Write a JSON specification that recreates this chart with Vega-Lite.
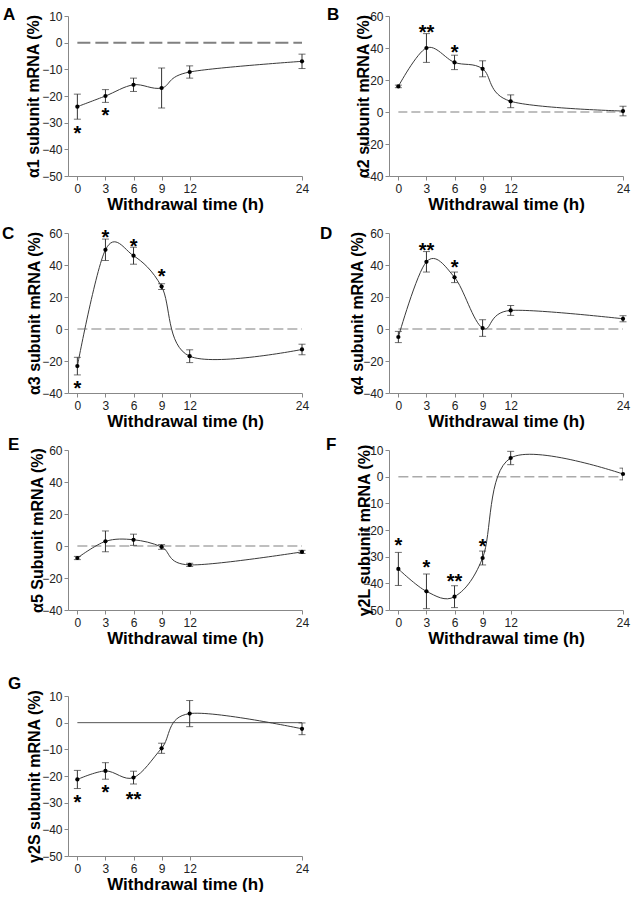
{
  "$schema": "https://vega.github.io/schema/vega-lite/v6.json",
  "background": "white",
  "padding": {"left": 2, "top": 6, "right": 4, "bottom": 0},
  "datasets": {
    "pts": [
      {"p":"A","t":0,"mean":-24,"err":4.7,"star":"*","sy":-32.2},
      {"p":"A","t":3,"mean":-20,"err":2.4,"star":"*","sy":-25.6},
      {"p":"A","t":6,"mean":-15.8,"err":2.5},
      {"p":"A","t":9,"mean":-17,"err":7.5},
      {"p":"A","t":12,"mean":-11,"err":2.3},
      {"p":"A","t":24,"mean":-7,"err":2.7},
      {"p":"B","t":0,"mean":16,"err":0.8},
      {"p":"B","t":3,"mean":40,"err":9,"star":"**","sy":52.5},
      {"p":"B","t":6,"mean":31,"err":4.5,"star":"*","sy":40.2},
      {"p":"B","t":9,"mean":27,"err":5},
      {"p":"B","t":12,"mean":6.7,"err":4},
      {"p":"B","t":24,"mean":0.6,"err":3},
      {"p":"C","t":0,"mean":-23.2,"err":5.5,"star":"*","sy":-34.6},
      {"p":"C","t":3,"mean":49.5,"err":6.7,"star":"*","sy":60.2},
      {"p":"C","t":6,"mean":45.8,"err":5.3,"star":"*","sy":54.5},
      {"p":"C","t":9,"mean":26.5,"err":1.8,"star":"*","sy":35.4},
      {"p":"C","t":12,"mean":-17,"err":4},
      {"p":"C","t":24,"mean":-12.8,"err":3.3},
      {"p":"D","t":0,"mean":-5,"err":3.5},
      {"p":"D","t":3,"mean":42,"err":6.4,"star":"**","sy":52},
      {"p":"D","t":6,"mean":32.3,"err":3.3,"star":"*","sy":41.2},
      {"p":"D","t":9,"mean":0.6,"err":5.2},
      {"p":"D","t":12,"mean":11.6,"err":3.1},
      {"p":"D","t":24,"mean":6.4,"err":1.9},
      {"p":"E","t":0,"mean":-7.5,"err":1},
      {"p":"E","t":3,"mean":2.9,"err":6.5},
      {"p":"E","t":6,"mean":3.9,"err":3.5},
      {"p":"E","t":9,"mean":-0.6,"err":1.5},
      {"p":"E","t":12,"mean":-11.8,"err":1},
      {"p":"E","t":24,"mean":-3.7,"err":1},
      {"p":"F","t":0,"mean":-34.6,"err":6.2,"star":"*","sy":-24},
      {"p":"F","t":3,"mean":-43,"err":6.5,"star":"*","sy":-32.4},
      {"p":"F","t":6,"mean":-45,"err":4.1,"star":"**","sy":-37.8},
      {"p":"F","t":9,"mean":-30.5,"err":2.6,"star":"*","sy":-24.6},
      {"p":"F","t":12,"mean":7,"err":2.5},
      {"p":"F","t":24,"mean":1,"err":2.2},
      {"p":"G","t":0,"mean":-21.3,"err":3.4,"star":"*","sy":-28.1},
      {"p":"G","t":3,"mean":-18.1,"err":3.1,"star":"*","sy":-24.4},
      {"p":"G","t":6,"mean":-20.6,"err":2.4,"star":"**","sy":-27.1},
      {"p":"G","t":9,"mean":-9.6,"err":1.9},
      {"p":"G","t":12,"mean":3.4,"err":4.9},
      {"p":"G","t":24,"mean":-2.3,"err":2.2}
    ]
  },
  "config": {
    "font": "Liberation Sans",
    "view": {"stroke": null},
    "axis": {"grid": false, "domainColor": "#888888", "tickColor": "#888888", "tickSize": 4, "labelFont": "Liberation Sans", "labelFontSize": 12, "labelColor": "#222222", "labelFlush": false, "titleFont": "Liberation Sans", "titleFontWeight": "bold", "titleColor": "#000000"},
    "axisX": {"titleFontSize": 17, "labelPadding": 3, "titlePadding": 2},
    "axisY": {"titleFontSize": 16, "labelPadding": 2, "titleY": 80, "titleBaseline": "middle", "titleAlign": "center", "titleAngle": -90},
    "title": {"anchor": "start", "frame": "group", "fontSize": 17, "fontWeight": "bold", "font": "Liberation Sans", "offset": 0, "baseline": "alphabetic", "color": "#000000"}
  },
  "vconcat": [
    {
      "columns": 2,
      "bounds": "flush",
      "spacing": {"row": 57, "column": 87},
      "concat": [
        {
          "title": {"text": "A", "dx": -65, "dy": 18},
          "width": 234, "height": 160,
          "data": {"name": "pts"},
          "transform": [{"filter": "datum.p === 'A'"}],
          "encoding": {
            "x": {"field": "t", "type": "quantitative", "scale": {"domain": [-1, 24], "nice": false, "zero": false}, "axis": {"values": [0,3,6,9,12,24], "title": "Withdrawal time (h)"}},
            "y": {"field": "mean", "type": "quantitative", "scale": {"domain": [-50, 10], "nice": false, "zero": false}, "axis": {"values": [-50,-40,-30,-20,-10,0,10], "titleX": -35}, "title": "α1 subunit mRNA (%)"}
          },
          "layer": [
            {"transform": [{"filter": "datum.t === 0"}], "mark": {"type": "rule", "color": "#808080", "strokeWidth": 2, "strokeDash": [13, 5]}, "encoding": {"x": {"datum": 0}, "x2": {"datum": 24}, "y": {"datum": 0}}},
            {"mark": {"type": "line", "interpolate": "cardinal", "color": "#3a3a3a", "strokeWidth": 1}},
            {"mark": {"type": "errorbar", "ticks": true, "size": 7, "thickness": 1, "color": "#333333"}, "encoding": {"yError": {"field": "err"}}},
            {"mark": {"type": "point", "filled": true, "color": "#000000", "size": 18, "opacity": 1}},
            {"transform": [{"filter": "datum.star"}], "mark": {"type": "text", "fontSize": 20, "fontWeight": "bold", "baseline": "middle", "dy": 5, "color": "#000000"}, "encoding": {"y": {"field": "sy", "type": "quantitative", "title": "α1 subunit mRNA (%)"}, "text": {"field": "star"}}}
          ]
        },
        {
          "title": {"text": "B", "dx": -62, "dy": 18},
          "width": 234, "height": 160,
          "data": {"name": "pts"},
          "transform": [{"filter": "datum.p === 'B'"}],
          "encoding": {
            "x": {"field": "t", "type": "quantitative", "scale": {"domain": [-1, 24], "nice": false, "zero": false}, "axis": {"values": [0,3,6,9,12,24], "title": "Withdrawal time (h)"}},
            "y": {"field": "mean", "type": "quantitative", "scale": {"domain": [-40, 60], "nice": false, "zero": false}, "axis": {"values": [-40,-20,0,20,40,60], "titleX": -26}, "title": "α2 subunit mRNA (%)"}
          },
          "layer": [
            {"transform": [{"filter": "datum.t === 0"}], "mark": {"type": "rule", "color": "#aaaaaa", "strokeWidth": 1.5, "strokeDash": [9, 4]}, "encoding": {"x": {"datum": 0}, "x2": {"datum": 24}, "y": {"datum": 0}}},
            {"mark": {"type": "line", "interpolate": "cardinal", "color": "#3a3a3a", "strokeWidth": 1}},
            {"mark": {"type": "errorbar", "ticks": true, "size": 7, "thickness": 1, "color": "#333333"}, "encoding": {"yError": {"field": "err"}}},
            {"mark": {"type": "point", "filled": true, "color": "#000000", "size": 18, "opacity": 1}},
            {"transform": [{"filter": "datum.star"}], "mark": {"type": "text", "fontSize": 20, "fontWeight": "bold", "baseline": "middle", "dy": 5, "color": "#000000"}, "encoding": {"y": {"field": "sy", "type": "quantitative", "title": "α2 subunit mRNA (%)"}, "text": {"field": "star"}}}
          ]
        },
        {
          "title": {"text": "C", "dx": -66, "dy": 20},
          "width": 234, "height": 160,
          "data": {"name": "pts"},
          "transform": [{"filter": "datum.p === 'C'"}],
          "encoding": {
            "x": {"field": "t", "type": "quantitative", "scale": {"domain": [-1, 24], "nice": false, "zero": false}, "axis": {"values": [0,3,6,9,12,24], "title": "Withdrawal time (h)"}},
            "y": {"field": "mean", "type": "quantitative", "scale": {"domain": [-40, 60], "nice": false, "zero": false}, "axis": {"values": [-40,-20,0,20,40,60], "titleX": -34}, "title": "α3 subunit mRNA (%)"}
          },
          "layer": [
            {"transform": [{"filter": "datum.t === 0"}], "mark": {"type": "rule", "color": "#aaaaaa", "strokeWidth": 1.5, "strokeDash": [10, 4]}, "encoding": {"x": {"datum": 0}, "x2": {"datum": 24}, "y": {"datum": 0}}},
            {"mark": {"type": "line", "interpolate": "cardinal", "color": "#3a3a3a", "strokeWidth": 1}},
            {"mark": {"type": "errorbar", "ticks": true, "size": 7, "thickness": 1, "color": "#333333"}, "encoding": {"yError": {"field": "err"}}},
            {"mark": {"type": "point", "filled": true, "color": "#000000", "size": 18, "opacity": 1}},
            {"transform": [{"filter": "datum.star"}], "mark": {"type": "text", "fontSize": 20, "fontWeight": "bold", "baseline": "middle", "dy": 5, "color": "#000000"}, "encoding": {"y": {"field": "sy", "type": "quantitative", "title": "α3 subunit mRNA (%)"}, "text": {"field": "star"}}}
          ]
        },
        {
          "title": {"text": "D", "dx": -69, "dy": 20},
          "width": 234, "height": 160,
          "data": {"name": "pts"},
          "transform": [{"filter": "datum.p === 'D'"}],
          "encoding": {
            "x": {"field": "t", "type": "quantitative", "scale": {"domain": [-1, 24], "nice": false, "zero": false}, "axis": {"values": [0,3,6,9,12,24], "title": "Withdrawal time (h)"}},
            "y": {"field": "mean", "type": "quantitative", "scale": {"domain": [-40, 60], "nice": false, "zero": false}, "axis": {"values": [-40,-20,0,20,40,60], "titleX": -32}, "title": "α4 subunit mRNA (%)"}
          },
          "layer": [
            {"transform": [{"filter": "datum.t === 0"}], "mark": {"type": "rule", "color": "#aaaaaa", "strokeWidth": 1.5, "strokeDash": [10, 4]}, "encoding": {"x": {"datum": 0}, "x2": {"datum": 24}, "y": {"datum": 0}}},
            {"mark": {"type": "line", "interpolate": "cardinal", "color": "#3a3a3a", "strokeWidth": 1}},
            {"mark": {"type": "errorbar", "ticks": true, "size": 7, "thickness": 1, "color": "#333333"}, "encoding": {"yError": {"field": "err"}}},
            {"mark": {"type": "point", "filled": true, "color": "#000000", "size": 18, "opacity": 1}},
            {"transform": [{"filter": "datum.star"}], "mark": {"type": "text", "fontSize": 20, "fontWeight": "bold", "baseline": "middle", "dy": 5, "color": "#000000"}, "encoding": {"y": {"field": "sy", "type": "quantitative", "title": "α4 subunit mRNA (%)"}, "text": {"field": "star"}}}
          ]
        },
        {
          "title": {"text": "E", "dx": -60, "dy": 14},
          "width": 234, "height": 160,
          "data": {"name": "pts"},
          "transform": [{"filter": "datum.p === 'E'"}],
          "encoding": {
            "x": {"field": "t", "type": "quantitative", "scale": {"domain": [-1, 24], "nice": false, "zero": false}, "axis": {"values": [0,3,6,9,12,24], "title": "Withdrawal time (h)"}},
            "y": {"field": "mean", "type": "quantitative", "scale": {"domain": [-40, 60], "nice": false, "zero": false}, "axis": {"values": [-40,-20,0,20,40,60], "titleX": -31}, "title": "α5 Subunit mRNA (%)"}
          },
          "layer": [
            {"transform": [{"filter": "datum.t === 0"}], "mark": {"type": "rule", "color": "#aaaaaa", "strokeWidth": 1.5, "strokeDash": [10, 4]}, "encoding": {"x": {"datum": 0}, "x2": {"datum": 24}, "y": {"datum": 0}}},
            {"mark": {"type": "line", "interpolate": "cardinal", "color": "#3a3a3a", "strokeWidth": 1}},
            {"mark": {"type": "errorbar", "ticks": true, "size": 7, "thickness": 1, "color": "#333333"}, "encoding": {"yError": {"field": "err"}}},
            {"mark": {"type": "point", "filled": true, "color": "#000000", "size": 18, "opacity": 1}}
          ]
        },
        {
          "title": {"text": "F", "dx": -63, "dy": 14},
          "width": 234, "height": 160,
          "data": {"name": "pts"},
          "transform": [{"filter": "datum.p === 'F'"}],
          "encoding": {
            "x": {"field": "t", "type": "quantitative", "scale": {"domain": [-1, 24], "nice": false, "zero": false}, "axis": {"values": [0,3,6,9,12,24], "title": "Withdrawal time (h)"}},
            "y": {"field": "mean", "type": "quantitative", "scale": {"domain": [-50, 10], "nice": false, "zero": false}, "axis": {"values": [-50,-40,-30,-20,-10,0,10], "titleX": -25}, "title": "γ2L subunit mRNA (%)"}
          },
          "layer": [
            {"transform": [{"filter": "datum.t === 0"}], "mark": {"type": "rule", "color": "#aaaaaa", "strokeWidth": 1.5, "strokeDash": [10, 4]}, "encoding": {"x": {"datum": 0}, "x2": {"datum": 24}, "y": {"datum": 0}}},
            {"mark": {"type": "line", "interpolate": "cardinal", "color": "#3a3a3a", "strokeWidth": 1}},
            {"mark": {"type": "errorbar", "ticks": true, "size": 7, "thickness": 1, "color": "#333333", "clip": true}, "encoding": {"yError": {"field": "err"}}},
            {"mark": {"type": "point", "filled": true, "color": "#000000", "size": 18, "opacity": 1}},
            {"transform": [{"filter": "datum.star"}], "mark": {"type": "text", "fontSize": 20, "fontWeight": "bold", "baseline": "middle", "dy": 5, "color": "#000000"}, "encoding": {"y": {"field": "sy", "type": "quantitative", "title": "γ2L subunit mRNA (%)"}, "text": {"field": "star"}}}
          ]
        }
      ]
    },
    {
      "title": {"text": "G", "dx": -60, "dy": 8},
      "width": 234, "height": 160,
      "data": {"name": "pts"},
      "transform": [{"filter": "datum.p === 'G'"}],
      "encoding": {
        "x": {"field": "t", "type": "quantitative", "scale": {"domain": [-1, 24], "nice": false, "zero": false}, "axis": {"values": [0,3,6,9,12,24], "title": "Withdrawal time (h)"}},
        "y": {"field": "mean", "type": "quantitative", "scale": {"domain": [-50, 10], "nice": false, "zero": false}, "axis": {"values": [-50,-40,-30,-20,-10,0,10], "titleX": -34}, "title": "γ2S subunit mRNA (%)"}
      },
      "layer": [
        {"transform": [{"filter": "datum.t === 0"}], "mark": {"type": "rule", "color": "#555555", "strokeWidth": 1}, "encoding": {"x": {"datum": 0}, "x2": {"datum": 24}, "y": {"datum": 0}}},
        {"mark": {"type": "line", "interpolate": "cardinal", "color": "#3a3a3a", "strokeWidth": 1}},
        {"mark": {"type": "errorbar", "ticks": true, "size": 7, "thickness": 1, "color": "#333333"}, "encoding": {"yError": {"field": "err"}}},
        {"mark": {"type": "point", "filled": true, "color": "#000000", "size": 18, "opacity": 1}},
        {"transform": [{"filter": "datum.star"}], "mark": {"type": "text", "fontSize": 20, "fontWeight": "bold", "baseline": "middle", "dy": 5, "color": "#000000"}, "encoding": {"y": {"field": "sy", "type": "quantitative", "title": "γ2S subunit mRNA (%)"}, "text": {"field": "star"}}}
      ]
    }
  ],
  "spacing": 29
}
